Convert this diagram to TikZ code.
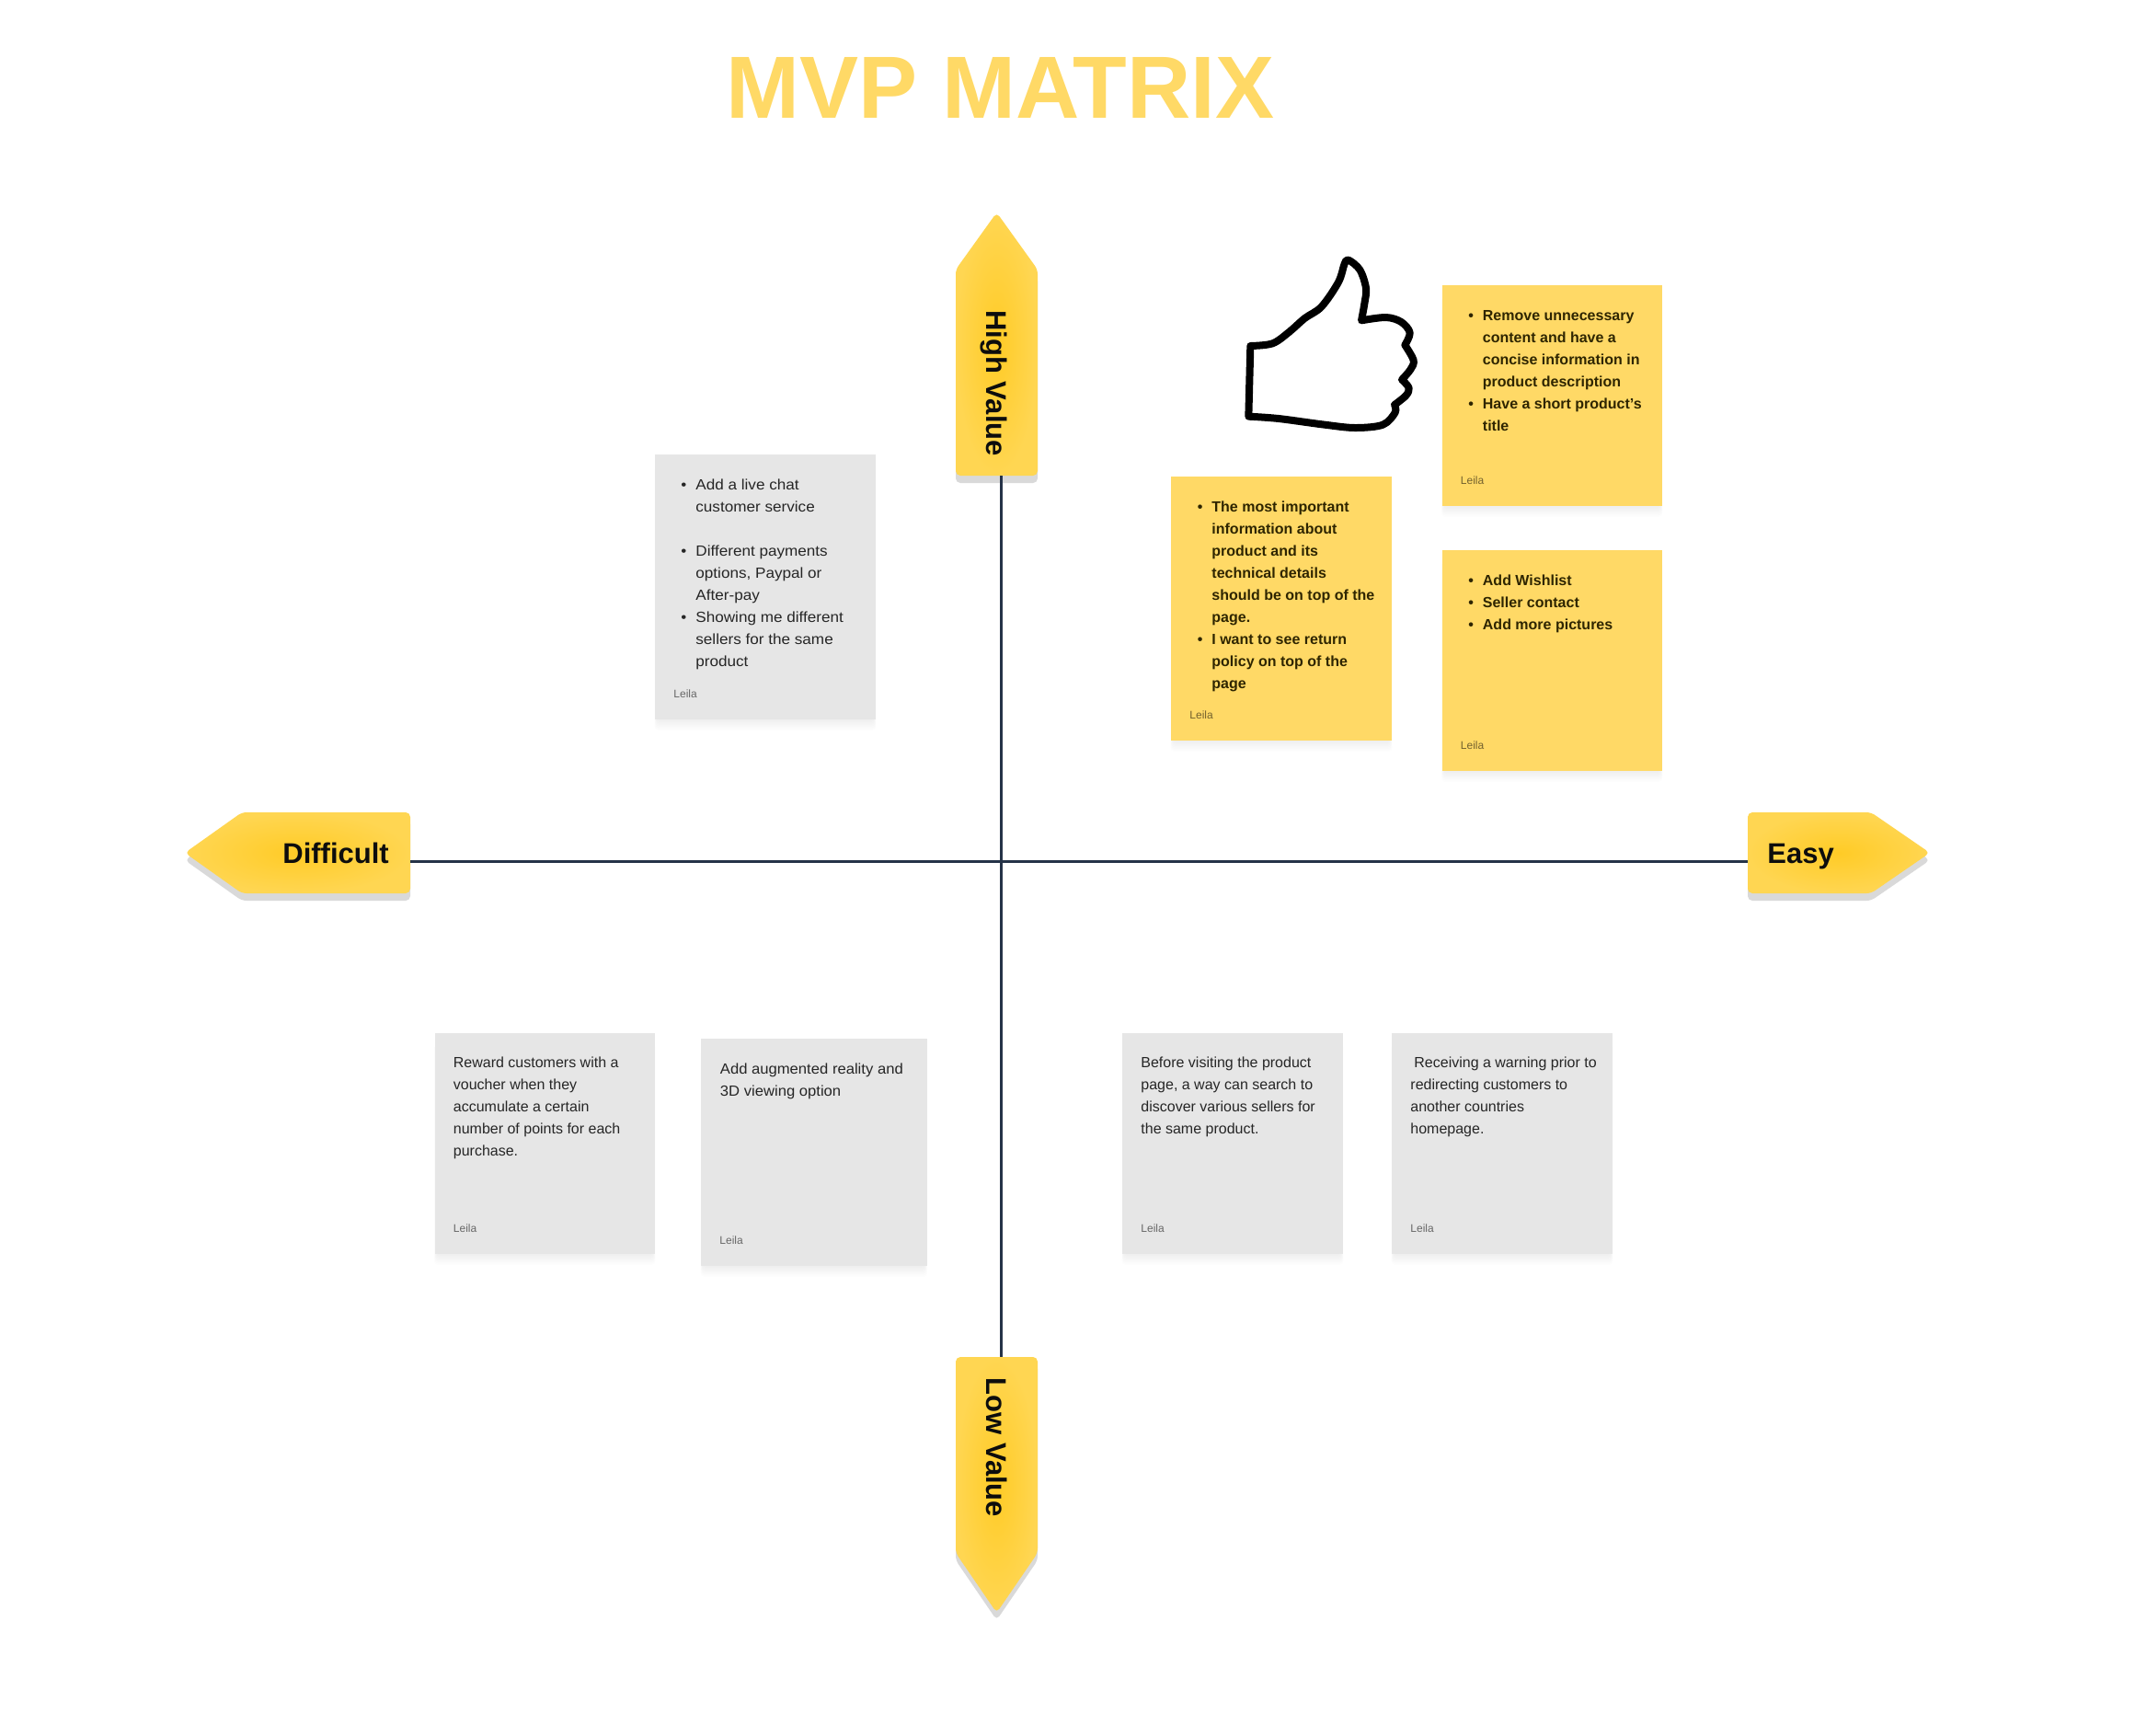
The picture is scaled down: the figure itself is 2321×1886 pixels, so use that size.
\documentclass[tikz,border=0pt]{standalone}
\usepackage{fontspec}
\setmainfont{Liberation Sans}
\newfontfamily\widefont[FakeStretch=1.07]{Liberation Sans}
\newfontfamily\midfont[FakeStretch=1.04]{Liberation Sans}
\usetikzlibrary{shadings}
\definecolor{stickyY}{HTML}{FFD966}
\definecolor{stickyG}{HTML}{E6E6E6}
\definecolor{axisC}{HTML}{253348}
\definecolor{tagIn}{HTML}{FFCB26}
\definecolor{tagOut}{HTML}{FFD652}
\definecolor{tagSh}{HTML}{D9D9D9}
\definecolor{inkG}{HTML}{262626}
\definecolor{inkY}{HTML}{2E2500}
\newcommand{\softsh}[4]{%
  \foreach \k in {0,1.5,...,12}{\fill[black,opacity=.009,rounded corners=2pt]
    (#1-\k*.2+2,#2+12) rectangle (#3+\k*.2-2,#4+\k);}}
\newcommand{\bl}{\leavevmode\llap{\textbullet\hspace{5pt}}}
\newcommand{\stk}[9]{% name, x1,y1,x2,y2, style, textdx, textstyle, text
  \softsh{#2}{#3}{#4}{#5}
  \node[#6,minimum width={(#4-#2)*0.5pt},minimum height={(#5-#3)*0.5pt}] (#1) at ({(#2+#4)/2},{(#3+#5)/2}) {};
  \node[lines,#8] (#1t) at (#2+#7,#3+38) {\parbox[t]{110pt}{\baselineskip=12pt\relax\raggedright #9}};
  \node[leila] (#1l) at (#2+20,#5-24) {Leila};}
\tikzset{
  x=0.5pt,y=-0.5pt,
  stickyyel/.style={fill=stickyY,inner sep=0,outer sep=0},
  stickygry/.style={fill=stickyG,inner sep=0,outer sep=0},
  lines/.style={anchor=base west,inner sep=0},
  leila/.style={anchor=base west,inner sep=0,font=\fontsize{6}{7}\selectfont,text=black,opacity=.55},
  onyel/.style={text=inkY,font=\fontsize{8}{12}\selectfont\bfseries},
  ongry/.style={text=inkG,font=\fontsize{8}{12}\selectfont},
  ongrywide/.style={text=inkG,font=\fontsize{8}{12}\widefont},
  ongrymid/.style={text=inkG,font=\fontsize{8}{12}\midfont},
  tagbody/.style={rounded corners=2.5pt,shading=radial,inner color=tagIn,outer color=tagOut},
  tagshadow/.style={rounded corners=2.5pt,fill=tagSh},
  taglabel/.style={anchor=base west,inner sep=0,text=black!95,font=\fontsize{15.5}{18}\selectfont\bfseries},
  hit/.style={inner sep=0,outer sep=0},
  axis/.style={draw=axisC,line width=1.5pt},
}
\begin{document}
\begin{tikzpicture}
\useasboundingbox (0,0) rectangle (2321,1886);
\fill[white] (0,0) rectangle (2321,1886);
% title
\node[anchor=base,inner sep=0,text=stickyY,font=\fontsize{48}{56}\selectfont\bfseries] (title) at (1087.5,128.5) {MVP MATRIX};
% tags
\foreach \d/\st in {8/tagshadow,0/tagbody}{
  \path[\st] (1083.5,231+\d) -- (1128,293+\d) -- (1128,517+\d) -- (1039,517+\d) -- (1039,293+\d) -- cycle;
  \path[\st] (1039,1475+\d) -- (1128,1475+\d) -- (1128,1688+\d) -- (1083.5,1753+\d) -- (1039,1688+\d) -- cycle;
  \path[\st] (201,927+\d) -- (263,883+\d) -- (446,883+\d) -- (446,971+\d) -- (263,971+\d) -- cycle;
  \path[\st] (2098,927+\d) -- (2034,883+\d) -- (1900,883+\d) -- (1900,971+\d) -- (2034,971+\d) -- cycle;
}
% hit boxes for axes
\node[hit,minimum width=44.5pt,minimum height=141.5pt] (high) at (1083.5,375.5) {};
\node[hit,minimum width=44.5pt,minimum height=138.5pt] (low) at (1083.5,1613.5) {};
\node[hit,minimum width=121pt,minimum height=44pt] (diff) at (325,927) {};
\node[hit,minimum width=98pt,minimum height=44pt] (easy) at (1998,927) {};
\draw[axis] ([xshift=2.25pt]high.south) -- ([xshift=2.25pt]low.north);
\draw[axis] ([yshift=-4.5pt]diff.east) -- ([yshift=-4.5pt]easy.west);
\node[taglabel,rotate=-90] (highl) at (1072,337) {High Value};
\node[taglabel,rotate=-90] (lowl) at (1072,1497) {Low Value};
\node[taglabel] (diffl) at (307,938) {Difficult};
\node[taglabel] (easyl) at (1921,938) {Easy};
% stickies
\stk{a}{1567.5}{310}{1807}{550}{stickyyel}{44}{onyel}{\bl Remove unnecessary\\content and have a\\concise information in\\product description\\\bl Have a short product’s\\title}
\stk{b}{1567.5}{598}{1807}{838}{stickyyel}{44}{onyel}{\bl Add Wishlist\\\bl Seller contact\\\bl Add more pictures}
\stk{c}{1273}{518}{1513}{805}{stickyyel}{44}{onyel}{\bl The most important\\information about\\product and its\\technical details\\should be on top of the\\page.\\\bl I want to see return\\policy on top of the\\page}
\stk{d}{712}{494}{952}{782}{stickygry}{44}{ongrywide}{\bl Add a live chat\\customer service\\\mbox{}\\\bl Different payments\\options, Paypal or\\After-pay\\\bl Showing me different\\sellers for the same\\product}
\stk{e}{472.5}{1122.5}{712}{1363}{stickygry}{20}{ongry}{Reward customers with a\\voucher when they\\accumulate a certain\\number of points for each\\purchase.}
\stk{f}{762}{1129}{1007.5}{1376}{stickygry}{20.5}{ongrymid}{Add augmented reality and\\3D viewing option}
\stk{g}{1220}{1122.5}{1460}{1363}{stickygry}{20}{ongry}{Before visiting the product\\page, a way can search to\\discover various sellers for\\the same product.}
\stk{h}{1513}{1122.5}{1753}{1363}{stickygry}{20}{ongry}{\hspace{2pt}Receiving a warning prior to\\redirecting customers to\\another countries\\homepage.}
% thumb
\begin{scope}[shift={(1340,270)},x=0.16667pt,y=-0.16667pt]
\draw[black,line width=4pt,line join=round,line cap=round]
  plot[smooth,tension=.55] coordinates {(58,318) (130,310) (185,272) (235,228) (290,190) (345,110) (365,50) (378,38) (415,70) (435,130) (430,180) (420,235)}
  -- plot[smooth,tension=.55] coordinates {(420,235) (500,225) (550,240) (578,275) (562,315)}
  -- plot[smooth,tension=.55] coordinates {(562,315) (590,365) (580,395) (552,428)}
  -- plot[smooth,tension=.55] coordinates {(552,428) (575,455) (565,480) (528,510)}
  -- plot[smooth,tension=.55] coordinates {(528,510) (530,535) (490,575) (400,585) (300,575) (150,555) (52,548)}
  -- cycle;
\end{scope}
\end{tikzpicture}
\end{document}
